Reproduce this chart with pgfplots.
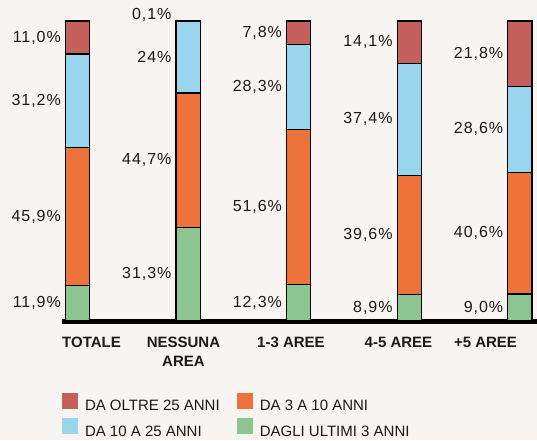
\documentclass[border=0pt]{standalone}
\usepackage{fontspec}
\setmainfont{Liberation Sans}
\newfontfamily\numfont{Liberation Sans}[LetterSpace=6]
\usepackage{pgfplots}
\pgfplotsset{compat=1.18}

\definecolor{bgc}{HTML}{F7F4F2}
\definecolor{cred}{HTML}{C55F5B}
\definecolor{corange}{HTML}{EE733A}
\definecolor{cblue}{HTML}{9AD5F0}
\definecolor{cgreen}{HTML}{8CC58F}
\definecolor{txt}{HTML}{1A1A1A}

\tikzset{
  lab/.style={anchor=east, xshift=-16.5pt, inner sep=0pt, text=txt,
    font=\numfont\fontsize{16}{18}\selectfont},
  cat/.style={anchor=north, yshift=-16pt, inner sep=0pt, text=txt, align=center,
    font=\bfseries\fontsize{15}{19}\selectfont},
}

\begin{document}
\begin{tikzpicture}[x=1pt,y=1pt]
\path[use as bounding box, fill=bgc] (0,0) rectangle (537,440);
\begin{axis}[
  at={(62pt,119pt)}, anchor=south west,
  scale only axis, width=475pt, height=300pt,
  xmin=-0.14, xmax=4.155, ymin=0, ymax=100,
  hide axis, clip=false,
  ybar stacked, bar width=0.22,
  legend image code/.code={\fill[#1] (0pt,-2.5pt) rectangle (16pt,13.5pt);},
  legend columns=2,
  legend cell align=left,
  legend style={at={(rel axis cs:0,0)}, anchor=north west, yshift=-72pt,
    draw=none, fill=none, inner sep=0pt, outer sep=0pt,
    font=\fontsize{15}{18}\selectfont, text=txt,
    row sep=6pt, nodes={inner xsep=7pt, inner ysep=0pt}},
  /tikz/every even column/.append style={column sep=10pt},
]
% legend entries (order: row by row)
\addlegendimage{fill=cred, draw=none}
\addlegendentry{DA OLTRE 25 ANNI}
\addlegendimage{fill=corange, draw=none}
\addlegendentry{DA 3 A 10 ANNI}
\addlegendimage{fill=cblue, draw=none}
\addlegendentry{DA 10 A 25 ANNI}
\addlegendimage{fill=cgreen, draw=none}
\addlegendentry{DAGLI ULTIMI 3 ANNI}

% categories: 0 TOTALE, 1 NESSUNA AREA, 2 1-3 AREE, 3 4-5 AREE, 4 +5 AREE
\addplot[fill=cgreen, draw=black, line width=1.2pt] coordinates {(0,11.9) (1,31.3) (2,12.3) (3,8.9) (4,9.0)};
\addplot[fill=corange, draw=black, line width=1.2pt] coordinates {(0,45.9) (1,44.7) (2,51.6) (3,39.6) (4,40.6)};
\addplot[fill=cblue, draw=black, line width=1.2pt] coordinates {(0,31.2) (1,24.0) (2,28.3) (3,37.4) (4,28.6)};
\addplot[fill=cred, draw=black, line width=1.2pt] coordinates {(0,11.0) (1,0.1) (2,7.8) (3,14.1) (4,21.8)};

\draw[line width=5pt] (rel axis cs:0,0) -- (rel axis cs:1,0);

% value labels
\node[lab] at (axis cs:0,5.95) {11,9\%};
\node[lab] at (axis cs:0,34.85) {45,9\%};
\node[lab] at (axis cs:0,73.4) {31,2\%};
\node[lab] at (axis cs:0,94.5) {11,0\%};
\node[lab] at (axis cs:1,15.65) {31,3\%};
\node[lab] at (axis cs:1,53.65) {44,7\%};
\node[lab] at (axis cs:1,88) {24\%};
\node[lab] at (axis cs:1,102) {0,1\%};
\node[lab] at (axis cs:2,6.15) {12,3\%};
\node[lab] at (axis cs:2,38.1) {51,6\%};
\node[lab] at (axis cs:2,78.05) {28,3\%};
\node[lab] at (axis cs:2,96.1) {7,8\%};
\node[lab] at (axis cs:3,4.45) {8,9\%};
\node[lab] at (axis cs:3,28.7) {39,6\%};
\node[lab] at (axis cs:3,67.2) {37,4\%};
\node[lab] at (axis cs:3,92.95) {14,1\%};
\node[lab] at (axis cs:4,4.5) {9,0\%};
\node[lab] at (axis cs:4,29.3) {40,6\%};
\node[lab] at (axis cs:4,63.9) {28,6\%};
\node[lab] at (axis cs:4,89.1) {21,8\%};

% category labels
\node[cat] at (axis cs:0.127,0) {TOTALE};
\node[cat] at (axis cs:0.958,0) {NESSUNA\\AREA};
\node[cat] at (axis cs:1.930,0) {1-3 AREE};
\node[cat] at (axis cs:2.902,0) {4-5 AREE};
\node[cat] at (axis cs:3.689,0) {+5 AREE};
\end{axis}
\end{tikzpicture}
\end{document}
